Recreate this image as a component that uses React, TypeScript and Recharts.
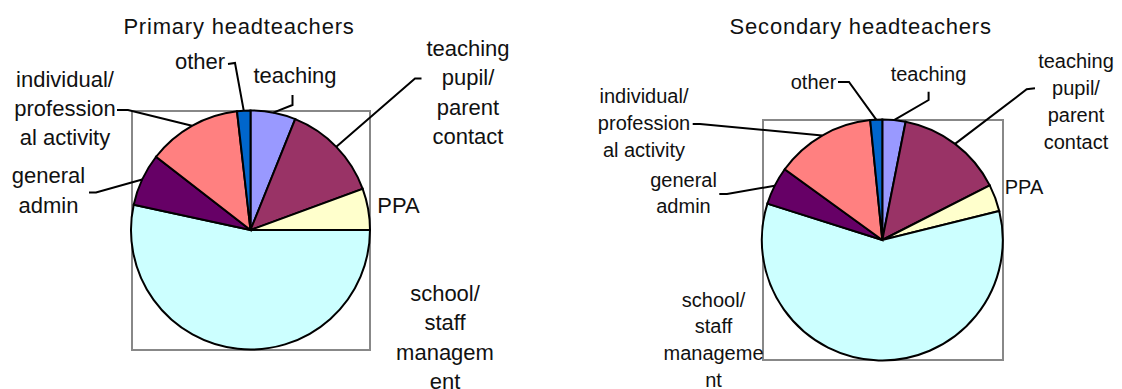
import { Cell, Pie, PieChart } from "recharts";

// share of time, %
const categories = [
  "teaching",
  "teaching pupil/parent contact",
  "PPA",
  "school/staff management",
  "general admin",
  "individual/professional activity",
  "other",
];
const primaryShare = [6.1, 13.3, 5.6, 53.4, 7.1, 12.7, 1.8];
const secondaryShare = [3.1, 14.4, 3.6, 58.7, 5.1, 13.4, 1.6];

const primaryLabelLines = [
  ["teaching"],
  ["teaching", "pupil/", "parent", "contact"],
  ["PPA"],
  ["school/", "staff", "managem", "ent"],
  ["general", "admin"],
  ["individual/", "profession", "al activity"],
  ["other"],
];
const secondaryLabelLines = [
  ["teaching"],
  ["teaching", "pupil/", "parent", "contact"],
  ["PPA"],
  ["school/", "staff", "manageme", "nt"],
  ["general", "admin"],
  ["individual/", "profession", "al activity"],
  ["other"],
];

const sliceColors = ["#9999FF", "#993366", "#FFFFCC", "#CCFFFF", "#660066", "#FF8080", "#0066CC"];
const FONT = '"Liberation Sans", Arial, sans-serif';
const RAD = Math.PI / 180;

type Spot = { x: number; y: number; step: number; leader?: [number, number][] };

// label placement relative to the pie centre: first baseline, line step, leader elbows
const primarySpots: Spot[] = [
  { x: 44.5, y: -147, step: 29.3, leader: [[42, -125], [42, -135]] },
  { x: 217.5, y: -174, step: 29.3, leader: [[164.5, -151.5], [171, -151.5]] },
  { x: 148, y: -17, step: 29.3 },
  { x: 194.5, y: 70.5, step: 29.5 },
  { x: -202, y: -46.7, step: 29.4, leader: [[-154.5, -37.5], [-161.5, -37.5]] },
  { x: -185.5, y: -143.3, step: 29, leader: [[-122.5, -120], [-133.5, -120]] },
  { x: -50.5, y: -161, step: 29, leader: [[-15.5, -167], [-22.5, -166]] },
];
const secondarySpots: Spot[] = [
  { x: 46.2, y: -159, step: 27, leader: [[46.3, -140], [46.3, -148.3]] },
  { x: 193.7, y: -171.7, step: 26.9, leader: [[144.4, -150.7], [152.7, -151.7]] },
  { x: 141.7, y: -46, step: 27 },
  { x: -168.8, y: 66.7, step: 26.7 },
  { x: -198.8, y: -53.3, step: 26.6, leader: [[-155.3, -46], [-163, -46]] },
  { x: -238.3, y: -136.7, step: 27, leader: [[-182.3, -116], [-189.6, -116]] },
  { x: -68.8, y: -151, step: 27, leader: [[-33.3, -158], [-44.3, -158]] },
];

const makeLabel = (lines: string[][], spots: Spot[], fontSize: number) => (p: any) => {
  const { cx, cy, midAngle, outerRadius, index } = p;
  const s = spots[index];
  const ex = cx + outerRadius * Math.cos(-midAngle * RAD);
  const ey = cy + outerRadius * Math.sin(-midAngle * RAD);
  const pts = [[ex, ey], ...(s.leader ?? []).map(([dx, dy]) => [cx + dx, cy + dy])];
  return (
    <g key={`lbl-${index}`}>
      {s.leader && (
        <polyline
          points={pts.map((q) => q.join(",")).join(" ")}
          fill="none"
          stroke="#000"
          strokeWidth={2}
        />
      )}
      <text textAnchor="middle" fontSize={fontSize} fill="#111" fontFamily={FONT}>
        {lines[index].map((t, i) => (
          <tspan key={i} x={cx + s.x} y={cy + s.y + i * s.step}>
            {t}
          </tspan>
        ))}
      </text>
    </g>
  );
};

type PanelProps = {
  left: number;
  title: string;
  titleX: number;
  values: number[];
  lines: string[][];
  spots: Spot[];
  cx: number;
  cy: number;
  r: number;
  fontSize: number;
  box: { x: number; y: number; w: number; h: number };
};

function Panel({ left, title, titleX, values, lines, spots, cx, cy, r, fontSize, box }: PanelProps) {
  const data = categories.map((name, i) => ({ name, value: values[i] }));
  return (
    <div style={{ position: "absolute", left, top: 0, width: 561, height: 389 }}>
      <div
        style={{
          position: "absolute",
          left: box.x,
          top: box.y,
          width: box.w,
          height: box.h,
          border: "2px solid #888",
          boxSizing: "border-box",
        }}
      />
      <div style={{ position: "absolute", left: 0, top: 0 }}>
        <PieChart width={561} height={389} margin={{ top: 0, right: 0, bottom: 0, left: 0 }}>
          <text
            x={titleX}
            y={34}
            textAnchor="middle"
            fontSize={22}
            letterSpacing={0.8}
            fill="#111"
            fontFamily={FONT}
          >
            {title}
          </text>
          <Pie
            data={data}
            dataKey="value"
            nameKey="name"
            cx={cx}
            cy={cy}
            outerRadius={r}
            startAngle={90}
            endAngle={-270}
            stroke="#000"
            strokeWidth={2}
            labelLine={false}
            label={makeLabel(lines, spots, fontSize)}
            isAnimationActive={false}
          >
            {data.map((d, i) => (
              <Cell key={d.name} fill={sliceColors[i]} />
            ))}
          </Pie>
        </PieChart>
      </div>
    </div>
  );
}

export default function App() {
  return (
    <div style={{ position: "absolute", left: 0, top: 0, width: 1122, height: 389, background: "#fff" }}>
      <Panel
        left={0}
        title="Primary headteachers"
        titleX={239}
        values={primaryShare}
        lines={primaryLabelLines}
        spots={primarySpots}
        cx={250.5}
        cy={230}
        r={119.5}
        fontSize={22}
        box={{ x: 131, y: 110, w: 240, h: 241 }}
      />
      <Panel
        left={561}
        title="Secondary headteachers"
        titleX={299.7}
        values={secondaryShare}
        lines={secondaryLabelLines}
        spots={secondarySpots}
        cx={321.3}
        cy={240}
        r={120.5}
        fontSize={20}
        box={{ x: 201, y: 119, w: 242, h: 242 }}
      />
    </div>
  );
}
